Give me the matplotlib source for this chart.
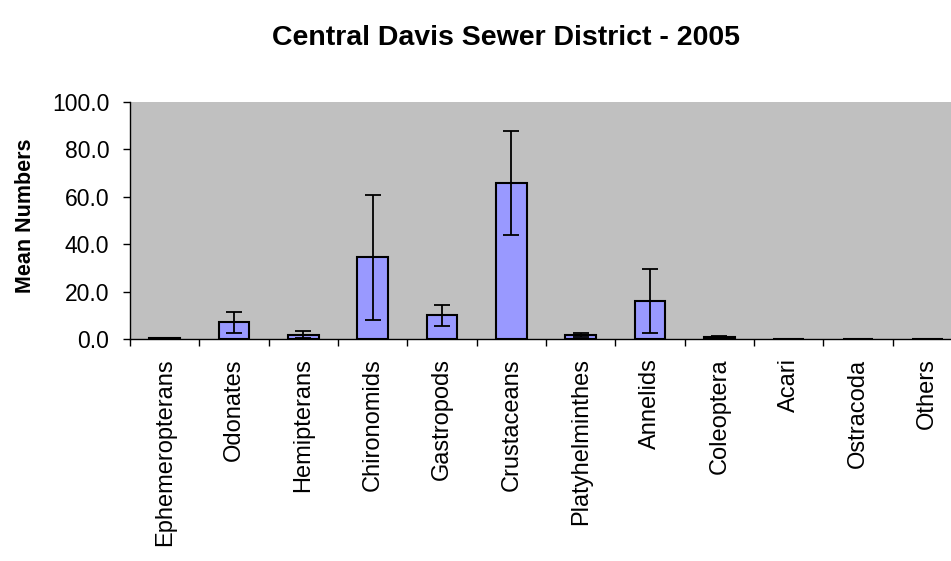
import numpy as np
import matplotlib.pyplot as plt
from matplotlib.ticker import FormatStrFormatter

plt.rcParams['font.family'] = ['Liberation Sans', 'DejaVu Sans']

# Данные
taxa = ["Ephemeropterans", "Odonates", "Hemipterans", "Chironomids",
        "Gastropods", "Crustaceans", "Platyhelminthes", "Annelids",
        "Coleoptera", "Acari", "Ostracoda", "Others"]
means = [0.4, 7.0, 1.9, 34.5, 10.0, 65.8, 1.7, 16.0, 0.8, 0.1, 0.1, 0.1]
errors = [0.2, 4.6, 1.6, 26.3, 4.5, 22.0, 0.9, 13.6, 0.6, 0.0, 0.0, 0.0]
yticks = [0, 20, 40, 60, 80, 100]

fig = plt.figure(figsize=(9.51, 5.61), dpi=100)
# область графика уходит за правый край, как в оригинале
ax = fig.add_axes([0.1367, 0.3957, 0.8749, 0.4225])
ax.set_facecolor("#c0c0c0")

x = np.arange(len(taxa))
ax.bar(x, means, width=0.44, color="#9999ff", edgecolor="black", linewidth=1.5,
       yerr=errors, capsize=5.5,
       error_kw=dict(ecolor="black", elinewidth=1.3, capthick=1.3))

ax.set_xlim(-0.5, len(taxa) - 0.5)
ax.set_ylim(0, 100)
ax.set_yticks(yticks)
ax.yaxis.set_major_formatter(FormatStrFormatter("%.1f"))

ax.set_xticks(x)
ax.set_xticklabels(taxa, rotation=90, fontsize=17)
ax.set_xticks(np.arange(len(taxa) + 1) - 0.5, minor=True)
ax.tick_params(axis="x", which="major", length=0, pad=14)
ax.tick_params(axis="x", which="minor", length=5, width=1, direction="out")
ax.tick_params(axis="y", labelsize=16.5, length=5, width=1, pad=10, direction="out")

for side in ["top", "right"]:
    ax.spines[side].set_visible(False)
ax.spines["left"].set_linewidth(1)
ax.spines["bottom"].set_linewidth(1)

ax.set_ylabel("Mean Numbers", fontsize=15.5, fontweight="bold")
ax.yaxis.set_label_coords(-0.113, 0.52)

fig.text(0.532, 0.932, "Central Davis Sewer District - 2005",
         ha="center", va="center", fontsize=20.5, fontweight="bold")

fig.savefig("out.png", dpi=100)
